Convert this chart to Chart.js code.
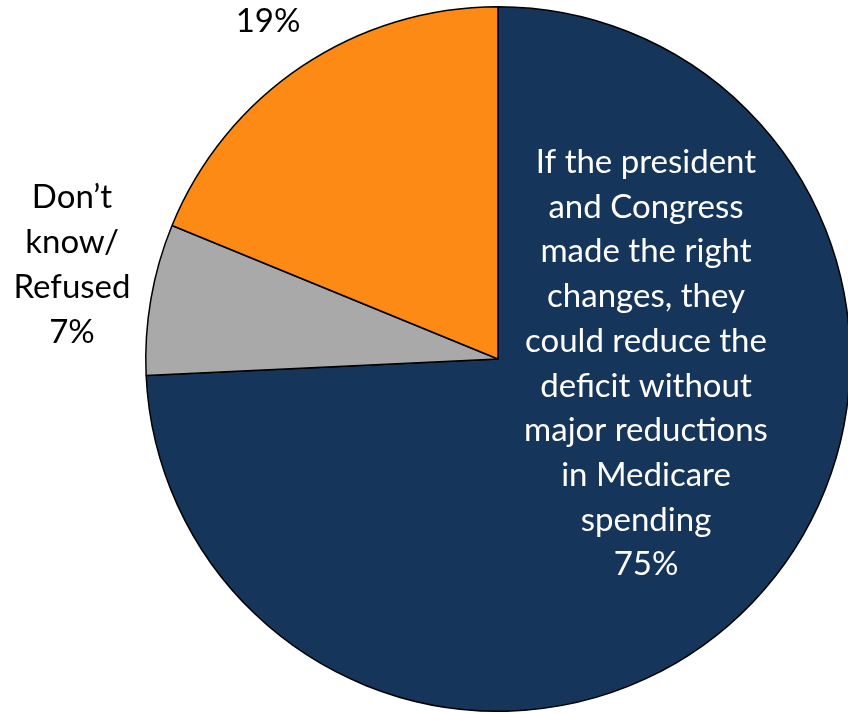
<!DOCTYPE html>
<html lang="en">
  <head>
    <meta charset="UTF-8" />
    <title>Medicare and the deficit</title>
    <script src="https://cdn.jsdelivr.net/npm/chart.js"></script>
    <style>
      html, body { margin: 0; padding: 0; background: #fff; overflow: hidden; }
      #pie { display: block; }
    </style>
  </head>
  <body>
    <canvas id="pie" width="852" height="713"></canvas>

    <script>
      // Data (order = clockwise from 12 o'clock)
      const categories = [
        "If the president and Congress made the right changes, they could reduce the deficit without major reductions in Medicare spending",
        "Don’t know/ Refused",
        "19%",
      ];
      const values = [75, 7, 19];
      const sliceColors = ["#15355a", "#a9a9a9", "#fd8a14"];

      // label text lines as they appear on the picture
      const labelLines = [
        ["If the president", "and Congress", "made the right", "changes, they", "could reduce the", "deficit without", "major reductions", "in Medicare", "spending"],
        ["Don’t", "know/", "Refused"],
        [],
      ];

      // where each label block sits (center x, first baseline y, line gap, colour)
      const labelSpots = [
        { x: 646, y: 173, gap: 44.7, color: "#ffffff" },
        { x: 72, y: 208, gap: 45, color: "#000000" },
        { x: 268, y: 32, gap: 45, color: "#000000" },
      ];

      const labelFont = "33px Lato, 'Noto Sans', sans-serif";

      // draws the text blocks beside / inside slices
      const pieLabels = {
        id: "pieLabels",
        afterDraw(chart) {
          const ctx = chart.ctx;
          ctx.save();
          ctx.font = labelFont;
          ctx.textAlign = "center";
          ctx.textBaseline = "alphabetic";
          values.forEach((v, i) => {
            const spot = labelSpots[i];
            const lines = labelLines[i].concat([v + "%"]);
            ctx.fillStyle = spot.color;
            lines.forEach((line, j) => {
              ctx.fillText(line, spot.x, spot.y + j * spot.gap);
            });
          });
          ctx.restore();
        },
      };

      new Chart(document.getElementById("pie"), {
        type: "pie",
        data: {
          labels: categories,
          datasets: [
            {
              data: values,
              backgroundColor: sliceColors,
              borderColor: "#000000",
              borderWidth: 1.5,
              hoverOffset: 0,
              offset: 0,
            },
          ],
        },
        options: {
          responsive: false,
          animation: false,
          layout: { padding: { left: 145, right: 1, top: 6, bottom: 1 } },
          plugins: {
            legend: { display: false },
            tooltip: { enabled: false },
          },
        },
        plugins: [pieLabels],
      });
    </script>
  </body>
</html>
